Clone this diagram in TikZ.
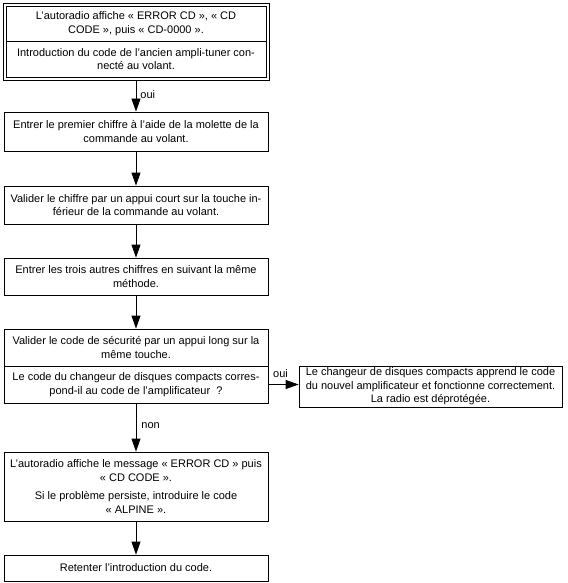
\documentclass[tikz,border=0pt]{standalone}
\usepackage{fontspec}
\setmainfont{Liberation Sans}
\usetikzlibrary{arrows.meta}
\begin{document}
\begin{tikzpicture}[x=1pt,y=-1pt,
  every node/.style={font=\fontsize{11}{13.5}\selectfont, inner sep=0pt},
  box/.style={draw, line width=0.8pt, align=center, minimum width=264pt},
  frame/.style={draw, line width=0.8pt},
  arr/.style={line width=0.8pt, -{Triangle[length=13pt,width=9pt]}},
  lbl/.style={font=\fontsize{11}{13}\selectfont, inner sep=1pt}]
\useasboundingbox (0,0) rectangle (567,583);
% box 1 (double frame)
\node[frame, minimum width=266pt, minimum height=77pt] (b1) at (136,41.5) {};
\node[box, minimum width=260pt, minimum height=35.5pt] (b1t) at (136,23.75)
  {L’autoradio affiche « ERROR CD », « CD\\CODE », puis « CD-0000 ».};
\node[box, minimum width=260pt, minimum height=35.5pt] (b1b) at (136,59.25)
  {Introduction du code de l’ancien ampli-tuner con-\\necté au volant.};
% box 2
\node[box, minimum height=39pt] (b2) at (136,131.5)
  {Entrer le premier chiffre à l’aide de la molette de la\\commande au volant.};
% box 3
\node[box, minimum height=38pt] (b3) at (136,205)
  {Valider le chiffre par un appui court sur la touche in-\\férieur de la commande au volant.};
% box 4
\node[box, minimum height=37pt] (b4) at (136,276.5)
  {Entrer les trois autres chiffres en suivant la même\\méthode.};
% box 5
\node[box, minimum height=37pt] (b5t) at (136,347.5)
  {Valider le code de sécurité par un appui long sur la\\même touche.};
\node[box, minimum height=37pt] (b5b) at (136,384.5)
  {Le code du changeur de disques compacts corres-\\pond-il au code de l’amplificateur\ \ ?};
% side box
\node[box, minimum width=263pt, minimum height=41pt] (side) at (430.5,386.5)
  {Le changeur de disques compacts apprend le code\\du nouvel amplificateur et fonctionne correctement.\\La radio est déprotégée.};
% box 6
\node[box, minimum height=69pt] (b6) at (136,486.5)
  {L’autoradio affiche le message « ERROR CD » puis\\« CD CODE ».\\[5pt]Si le problème persiste, introduire le code\\« ALPINE ».};
% box 7
\node[box, minimum height=26pt] (b7) at (136,568)
  {Retenter l'introduction du code.};
% arrows
\draw[arr] (b1.south) -- node[lbl, pos=0.45, anchor=west, xshift=3pt] {oui} (b2.north);
\draw[arr] (b2.south) -- (b3.north);
\draw[arr] (b3.south) -- (b4.north);
\draw[arr] (b4.south) -- (b5t.north);
\draw[arr] (b5b.east) -- node[lbl, pos=0.4, anchor=south, yshift=5pt] {oui} (b5b.east -| side.west);
\draw[arr] (b5b.south) -- node[lbl, pos=0.47, anchor=west, xshift=4pt] {non} (b6.north);
\draw[arr] (b6.south) -- (b7.north);
\end{tikzpicture}
\end{document}
